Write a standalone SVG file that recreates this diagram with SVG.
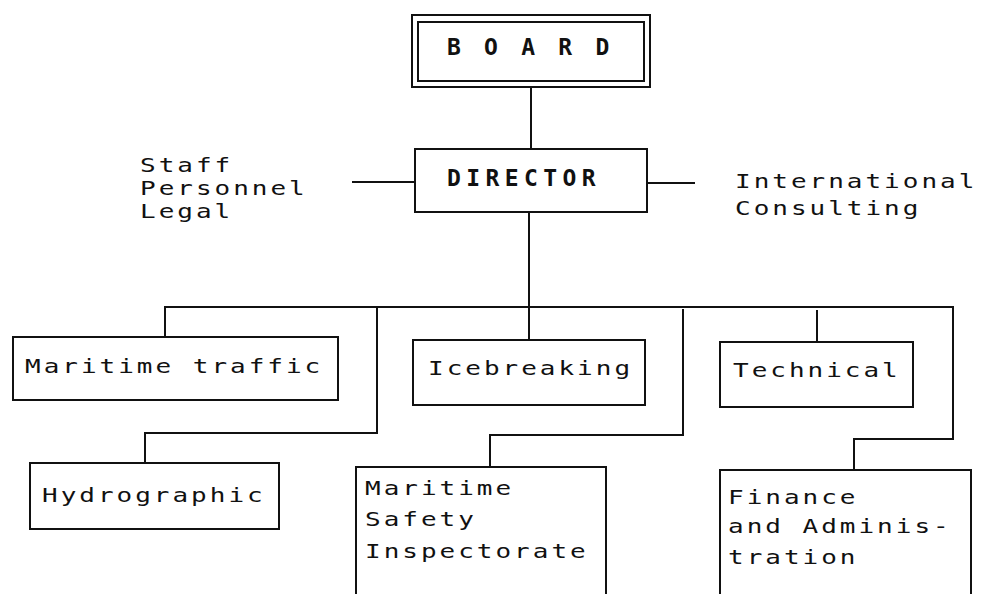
<svg xmlns="http://www.w3.org/2000/svg" width="981" height="594" viewBox="0 0 981 594">
<style>
.bx{fill:none;stroke:#111;stroke-width:2}
.ln{fill:none;stroke:#111;stroke-width:2}
.t{font-family:"DejaVu Sans Mono","Liberation Mono",monospace;font-size:20px;letter-spacing:2.3px;fill:#111}
.tb{font-family:"DejaVu Sans Mono","Liberation Mono",monospace;font-size:23px;font-weight:bold;fill:#111}
</style>
<rect width="981" height="594" fill="#fff"/>
<g id="connectors">
<path class="ln" d="M531 87 V149"/>
<path class="ln" d="M352 182 H415"/>
<path class="ln" d="M647 183 H695"/>
<path class="ln" d="M529 212 V340"/>
<path class="ln" d="M165 337 V307 H953 V439 H854 V470"/>
<path class="ln" d="M377 308 V433 H145 V463"/>
<path class="ln" d="M683 309 V435 H490 V467"/>
<path class="ln" d="M817 310 V342"/>
</g>
<g id="board">
<rect class="bx" x="412" y="15" width="238" height="72"/>
<rect class="bx" x="418" y="22" width="226" height="59"/>
<text class="tb" x="447" y="55" font-size="24" style="letter-spacing:4.7px">B O A R D</text>
</g>
<g id="director">
<rect class="bx" x="415" y="149" width="232" height="63"/>
<text class="tb" x="447" y="186" style="letter-spacing:5.4px">DIRECTOR</text>
</g>
<g id="staff">
<text class="t" transform="matrix(1.3 0 0 1 140 172)">Staff</text>
<text class="t" transform="matrix(1.3 0 0 1 140 195)">Personnel</text>
<text class="t" transform="matrix(1.3 0 0 1 140 218)">Legal</text>
</g>
<g id="international">
<text class="t" transform="matrix(1.3 0 0 1 735 188)">International</text>
<text class="t" transform="matrix(1.3 0 0 1 735 215)">Consulting</text>
</g>
<g id="maritime-traffic">
<rect class="bx" x="13" y="337" width="325" height="63"/>
<text class="t" transform="matrix(1.3 0 0 1 25 373)">Maritime traffic</text>
</g>
<g id="icebreaking">
<rect class="bx" x="413" y="340" width="232" height="65"/>
<text class="t" transform="matrix(1.3 0 0 1 428 375)">Icebreaking</text>
</g>
<g id="technical">
<rect class="bx" x="720" y="342" width="193" height="65"/>
<text class="t" transform="matrix(1.3 0 0 1 733 377)">Technical</text>
</g>
<g id="hydrographic">
<rect class="bx" x="30" y="463" width="249" height="66"/>
<text class="t" transform="matrix(1.3 0 0 1 42 502)">Hydrographic</text>
</g>
<g id="maritime-safety">
<path class="bx" d="M356 595 V467 H606 V595"/>
<text class="t" transform="matrix(1.3 0 0 1 365 495)">Maritime</text>
<text class="t" transform="matrix(1.3 0 0 1 365 526)">Safety</text>
<text class="t" transform="matrix(1.3 0 0 1 365 558)">Inspectorate</text>
</g>
<g id="finance">
<path class="bx" d="M720 595 V470 H971 V595"/>
<text class="t" transform="matrix(1.3 0 0 1 728 504)">Finance</text>
<text class="t" transform="matrix(1.3 0 0 1 728 533)">and Adminis-</text>
<text class="t" transform="matrix(1.3 0 0 1 728 564)">tration</text>
</g>
</svg>
